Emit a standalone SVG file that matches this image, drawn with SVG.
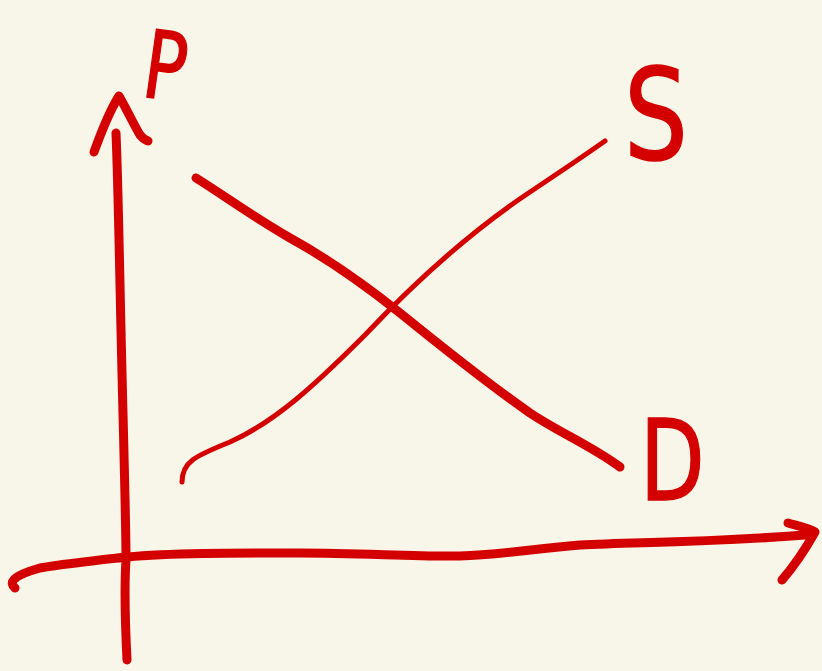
<svg xmlns="http://www.w3.org/2000/svg" width="822" height="671" viewBox="0 0 822 671">
<style>
.ink{fill:none;stroke:#d40000;stroke-linecap:round;stroke-linejoin:round}
.lbl{fill:#d40000;stroke:#d40000;stroke-width:1.5;font-family:"DejaVu Sans","Liberation Sans",sans-serif;font-weight:normal}
</style>
<rect width="822" height="671" fill="#f8f5e9"/>
<g id="connectors">
<path class="ink" stroke-width="9" d="M127,660 C125,620 124,590 126,560 C126,520 123,420 121,330 C119,240 118,180 116,133"/>
<path class="ink" stroke-width="9" d="M94,152 C102,130 110,110 119,96 C126,108 134,125 140,135 C143,139 146,140 148,141"/>
<path class="ink" stroke-width="9" d="M15,588 C9,583 11,576 40,568 C70,563 100,560 127,557 C170,553 230,553 300,553 C360,553 420,557 460,556 C500,555 530,549 580,545 C640,542 700,543 805,535"/>
<path class="ink" stroke-width="9" d="M788,523 C798,526 808,528 815,532 C805,550 795,565 782,580"/>
<path class="ink" stroke-width="9" d="M196,178 C225,196 250,215 290,238 C330,260 365,285 400,313 C440,345 480,378 530,413 C560,433 590,445 620,467"/>
<path class="ink" stroke-width="5" d="M182,482 C182,462 195,456 230,442 C275,422 315,385 365,335 C415,282 470,232 530,192 C560,172 585,155 605,141"/>
</g>
<g id="label-p"><text class="lbl" transform="translate(140,96) rotate(8) scale(0.75,1)" font-size="94">P</text></g>
<g id="label-s"><text class="lbl" transform="translate(624,159) scale(0.8,1)" font-size="126">S</text></g>
<g id="label-d"><text class="lbl" transform="translate(640,500) scale(0.75,1)" font-size="112">D</text></g>
</svg>
